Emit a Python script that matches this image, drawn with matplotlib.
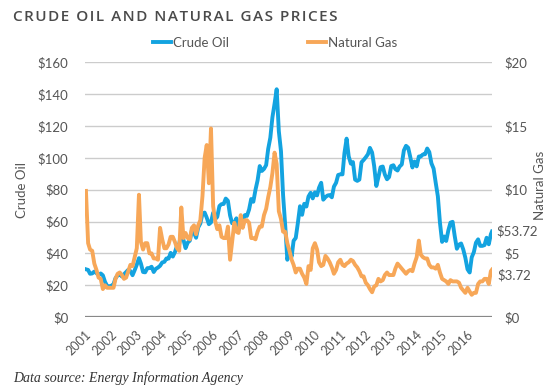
import matplotlib
matplotlib.use("Agg")
import matplotlib.pyplot as plt
import pandas as pd

# Monthly prices (one row per year, Jan..Dec)
crude_oil = [
    30.0, 29.6, 27.2, 27.4, 28.6, 27.6, 26.4, 27.4, 26.2, 22.2, 19.6, 19.3,    # 2001
    19.7, 20.7, 24.4, 26.2, 27.0, 25.5, 26.9, 28.4, 29.7, 28.9, 26.3, 29.4,    # 2002
    32.9, 37.0, 33.6, 28.3, 28.1, 30.7, 30.8, 31.6, 28.3, 30.3, 31.1, 32.2,    # 2003
    34.3, 34.7, 36.8, 36.7, 40.3, 38.0, 40.7, 44.9, 45.9, 53.1, 48.5, 43.3,    # 2004
    46.8, 48.0, 54.3, 53.0, 49.8, 56.3, 58.7, 65.0, 65.6, 62.4, 58.3, 59.4,    # 2005
    65.5, 61.6, 62.9, 69.7, 70.9, 71.0, 74.4, 73.0, 63.8, 58.9, 59.1, 62.0,    # 2006
    54.5, 59.3, 60.4, 64.0, 63.5, 67.5, 74.1, 72.4, 79.9, 85.8, 94.8, 91.7,    # 2007
    93.0, 95.4, 105.5, 112.6, 125.4, 134.0, 143.0, 116.7, 104.1, 76.6, 57.3, 36.0,  # 2008
    42.0, 38.0, 47.9, 49.7, 59.0, 69.6, 64.2, 71.1, 69.4, 75.7, 78.0, 74.5,    # 2009
    78.3, 76.4, 81.2, 84.3, 73.7, 75.3, 76.3, 76.6, 75.2, 81.9, 84.3, 89.2,    # 2010
    89.6, 89.6, 102.9, 112.0, 100.9, 96.3, 97.3, 86.3, 85.5, 86.3, 97.2, 98.6,  # 2011
    100.3, 102.2, 106.2, 103.3, 94.7, 82.3, 87.9, 94.1, 94.5, 89.5, 86.5, 87.9,  # 2012
    94.8, 95.3, 92.9, 92.0, 94.5, 95.8, 104.6, 107.5, 106.3, 100.5, 93.9, 97.6,  # 2013
    94.6, 100.8, 100.8, 102.1, 102.2, 105.8, 103.6, 96.5, 93.2, 84.4, 75.8, 59.3,  # 2014
    47.2, 50.6, 47.8, 54.5, 59.3, 59.8, 50.9, 42.9, 45.5, 46.2, 42.4, 37.2,    # 2015
    30.0, 28.0, 37.5, 40.8, 46.7, 48.8, 44.7, 44.7, 45.2, 49.8, 45.7, 52.0,    # 2016
]
natural_gas = [
    9.9, 5.8, 5.3, 5.2, 4.2, 3.7, 3.1, 3.0, 2.2, 2.5, 2.3, 2.3,      # 2001
    2.3, 2.3, 3.0, 3.4, 3.5, 3.3, 3.0, 3.1, 3.6, 4.1, 4.0, 4.7,      # 2002
    5.4, 9.6, 5.9, 5.3, 5.8, 5.8, 5.0, 5.0, 4.6, 4.6, 4.5, 7.0,      # 2003
    6.1, 5.4, 5.4, 5.7, 6.3, 6.3, 5.9, 5.4, 5.2, 8.6, 6.2, 6.6,      # 2004
    6.2, 6.1, 7.0, 7.2, 6.5, 7.2, 7.6, 9.5, 12.5, 13.5, 10.5, 14.8,  # 2005
    8.7, 7.5, 6.9, 7.2, 6.3, 6.2, 6.2, 7.1, 4.5, 5.9, 7.4, 6.7,      # 2006
    6.6, 8.0, 7.0, 7.6, 7.6, 7.4, 6.2, 6.2, 6.1, 6.7, 7.1, 7.1,      # 2007
    8.0, 8.5, 9.4, 10.2, 11.3, 12.9, 12.0, 8.3, 7.7, 6.7, 6.7, 5.8,  # 2008
    5.2, 4.5, 4.1, 3.5, 3.8, 3.8, 3.4, 3.1, 2.6, 4.0, 3.7, 5.4,      # 2009
    5.8, 5.3, 4.3, 4.0, 4.1, 4.8, 4.6, 4.3, 3.9, 3.4, 3.7, 4.3,      # 2010
    4.5, 4.1, 4.0, 4.2, 4.3, 4.5, 4.4, 4.1, 3.9, 3.6, 3.2, 3.2,      # 2011
    2.7, 2.5, 2.2, 1.95, 2.4, 2.5, 3.0, 2.8, 2.9, 3.3, 3.5, 3.3,     # 2012
    3.3, 3.3, 3.8, 4.2, 4.0, 3.8, 3.6, 3.4, 3.6, 3.7, 3.6, 4.2,      # 2013
    4.7, 6.0, 4.9, 4.7, 4.6, 4.6, 4.1, 3.9, 3.9, 3.8, 4.1, 3.5,      # 2014
    3.0, 2.9, 2.8, 2.6, 2.9, 2.8, 2.8, 2.8, 2.7, 2.3, 2.1, 1.9,      # 2015
    2.3, 2.0, 1.75, 1.9, 1.9, 2.6, 2.8, 2.8, 3.0, 3.0, 2.6, 3.6,     # 2016
]
last_oil = 53.72
last_gas = 3.72
year_labels = [str(y) for y in range(2001, 2017)]

oil_color = "#13a3e0"
gas_color = "#f7a758"
text_color = "#555555"

dates = pd.date_range("2001-01-01", periods=len(crude_oil), freq="MS") + pd.Timedelta(days=14)
dates = dates.append(pd.DatetimeIndex([pd.Timestamp("2016-12-31")]))
oil = crude_oil + [last_oil]
gas = natural_gas + [last_gas]

fig = plt.figure(figsize=(5.5, 3.91), dpi=100)
ax1 = fig.add_axes([0.1545, 0.189, 0.74, 0.652])
ax2 = ax1.twinx()

l1, = ax1.plot(dates, oil, color=oil_color, linewidth=2.8, label="Crude Oil")
l2, = ax2.plot(dates, gas, color=gas_color, linewidth=2.8, label="Natural Gas")

ax1.set_xlim(pd.Timestamp("2001-01-01"), pd.Timestamp("2016-12-31"))
ax1.set_ylim(0, 160)
ax2.set_ylim(0, 20)
ax1.set_yticks(range(0, 161, 20))
ax2.set_yticks(range(0, 21, 5))
ax1.set_yticklabels(["$%d" % v for v in range(0, 161, 20)])
ax2.set_yticklabels(["$%d" % v for v in range(0, 21, 5)])

ticks = [pd.Timestamp(f"{y}-01-01") for y in year_labels]
ax1.set_xticks(ticks)
ax1.set_xticklabels(year_labels, rotation=45, ha="right", rotation_mode="anchor")

for lab in ax1.get_yticklabels() + ax2.get_yticklabels():
    lab.set_fontfamily("Lato")
    lab.set_fontsize(9.5)
    lab.set_color(text_color)
for lab in ax1.get_xticklabels():
    lab.set_fontfamily("Lato")
    lab.set_fontsize(9)
    lab.set_color(text_color)

ax1.tick_params(axis="y", length=0, pad=12)
ax2.tick_params(axis="y", length=0, pad=9)
ax1.tick_params(axis="x", length=0, pad=8)

for ax in (ax1, ax2):
    for s in ax.spines.values():
        s.set_visible(False)
ax1.grid(axis="y", color="#cccccc", linewidth=1)
ax1.axhline(0, color="#888888", linewidth=1.6, zorder=3)
ax1.set_axisbelow(True)

# end-of-series value labels
ax1.annotate("$53.72", xy=(1.0, last_oil), xycoords=("axes fraction", "data"),
             xytext=(3, 0), textcoords="offset points", va="center", ha="left",
             fontsize=9.5, family="Lato", color=text_color)
ax2.annotate("$3.72", xy=(1.0, last_gas), xycoords=("axes fraction", "data"),
             xytext=(4, -4), textcoords="offset points", va="center", ha="left",
             fontsize=9.5, family="Lato", color=text_color)

fig.text(0.04, 0.514, "Crude Oil", rotation=90, va="center", ha="center",
         fontsize=9.5, family="Lato", color=text_color)
fig.text(0.982, 0.527, "Natural Gas", rotation=90, va="center", ha="center",
         fontsize=9.5, family="Lato", color=text_color)

title = "\u200a".join("CRUDE OIL AND NATURAL GAS PRICES")
fig.text(0.024, 0.957, title, fontsize=11, fontweight="semibold",
         family=["Open Sans", "DejaVu Sans"], color="#4a4a4a", va="center", ha="left")

fig.legend([l1, l2], ["Crude Oil", "Natural Gas"], loc="center", bbox_to_anchor=(0.5, 0.89),
           ncol=2, frameon=False, handlelength=1.4, handletextpad=0.1, columnspacing=6,
           prop=dict(family="Lato", size=9.5), labelcolor=text_color)

fig.text(0.024, 0.033, "Data source: Energy Information Agency", fontsize=10,
         style="italic", family="Liberation Serif", color="#333333", va="center", ha="left")

fig.savefig("out.png", dpi=100)
